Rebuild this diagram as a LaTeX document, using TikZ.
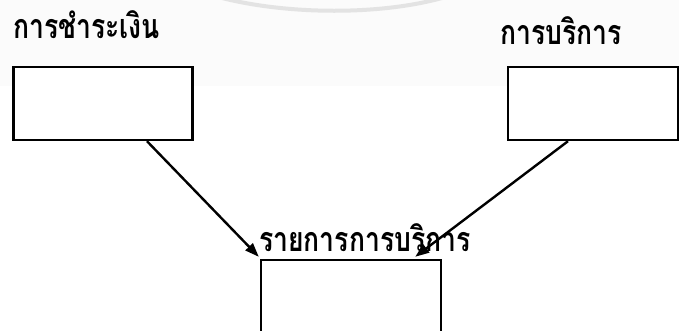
\documentclass[tikz,border=0pt]{standalone}
\usepackage{fontspec}
\newfontfamily\thaifont[Script=Thai,FakeStretch=0.78]{Loma}
\usetikzlibrary{arrows.meta,calc}
\tikzset{
  box/.style={draw=black,line width=2.4pt,inner sep=0pt,fill=white},
  lbl/.style={font=\thaifont\bfseries\fontsize{34}{38}\selectfont,inner sep=0pt,text=black},
  arr/.style={line width=2.4pt,-{Triangle[length=14pt,width=10pt]}}
}
\begin{document}
\begin{tikzpicture}[x=1pt,y=-1pt]
\useasboundingbox (0,0) rectangle (679,330);
\clip (0,0) rectangle (679,330);
\fill[white] (0,0) rectangle (679,330);
\fill[black!1.5] (0,0) rectangle (679,86);
% faint watermark arc
\draw[black!11,line width=4pt] (222,-2) .. controls (290,15) and (380,15) .. (442,-2);
\node[box,minimum width=179pt,minimum height=73pt] (L) at (103,103.5) {};
\node[box,minimum width=170pt,minimum height=73pt] (R) at (593,103.5) {};
\node[box,minimum width=180pt,minimum height=90pt] (B) at (351,305) {};
\node[lbl,anchor=base west] (Lt) at (13,38) {การชำระเงิน};
\node[lbl,anchor=base west] (Rt) at (500,44) {การบริการ};
\node[lbl,anchor=base west] (Bt) at (259,251) {รายการการบริการ};
\draw[arr] ([xshift=44pt]L.south) -- ([xshift=-1pt,yshift=2pt]B.north west);
\draw[arr] ([xshift=-25pt]R.south) -- ([xshift=-27pt,yshift=2pt]B.north east);
\end{tikzpicture}
\end{document}
